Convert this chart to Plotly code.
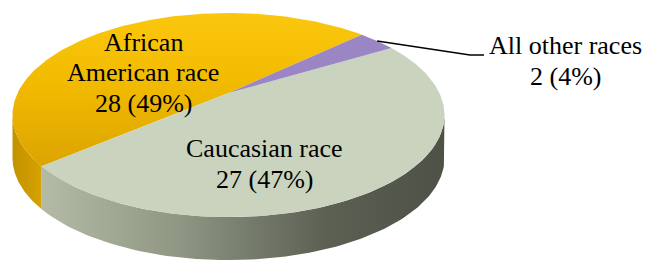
import numpy as np
import plotly.graph_objects as go

# ---------------- data ----------------
categories = ["African American race", "Caucasian race", "All other races"]
values = [28, 27, 2]
label_first_lines = [["African", "American race"], ["Caucasian race"], ["All other races"]]

# ---------------- styling / geometry ----------------
W, Hh = 647, 260
CX, CY = 228.5, 93.0          # projected centre of the pie
K, K2, E = 210.9, 97.3, 0.216  # perspective ellipse parameters
DEPTH = 43                     # thickness of the pie
START = 43.5                   # start angle (deg, counter-clockwise)
FONT = "Liberation Serif"
FS = 26

top_fill = [
    dict(type="vertical", colorscale=[[0, "#DCA400"], [0.55, "#F2BB00"], [1, "#FBC70E"]]),
    None,
    None,
]
top_colors = ["#F5C000", "#C9D3BE", "#9B86C5"]
wall_fill = [
    dict(type="horizontal", colorscale=[[0, "#C39300"], [1, "#D6A200"]]),
    dict(type="horizontal", colorscale=[[0, "#B3BBA6"], [0.35, "#8E9582"],
                                        [0.7, "#5C6154"], [1, "#4D5146"]]),
    None,
]
wall_colors = ["#CC9A00", "#7D8472", "#7A6A9E"]


def proj(theta_deg, r=1.0, drop=0.0):
    t = np.radians(theta_deg)
    d = 1 + E * r * np.sin(t)
    u = K * r * np.cos(t) / d
    v = K2 * r * np.sin(t) / d
    return CX + u, CY - v + drop


total = sum(values)
spans = [v / total * 360 for v in values]
bounds = [START]
for s in spans:
    bounds.append(bounds[-1] + s)

fig = go.Figure()

# visible wall range (front silhouette)
ext = np.degrees(np.arcsin(E))
wall_lo, wall_hi = 180 + ext, 360 - ext

# walls
for i in range(len(values)):
    a0, a1 = bounds[i], bounds[i + 1]
    for shift in (-360, 0, 360):
        lo = max(a0 + shift, wall_lo)
        hi = min(a1 + shift, wall_hi)
        if hi > lo:
            th = np.linspace(lo, hi, 120)
            xt, yt = proj(th)
            xb, yb = proj(th[::-1], drop=DEPTH)
            xs = np.concatenate([xt, xb, xt[:1]])
            ys = np.concatenate([yt, yb, yt[:1]])
            kw = dict(fillcolor=wall_colors[i])
            if wall_fill[i] is not None:
                kw = dict(fillgradient=wall_fill[i])
            fig.add_trace(go.Scatter(x=xs, y=ys, mode="lines", fill="toself",
                                     line=dict(width=0), hoverinfo="skip",
                                     showlegend=False, **kw))

# top faces
for i in range(len(values)):
    a0, a1 = bounds[i], bounds[i + 1]
    th = np.linspace(a0, a1, 200)
    xa, ya = proj(th)
    xs = np.concatenate([[CX], xa, [CX]])
    ys = np.concatenate([[CY], ya, [CY]])
    kw = dict(fillcolor=top_colors[i])
    if top_fill[i] is not None:
        kw = dict(fillgradient=top_fill[i])
    fig.add_trace(go.Scatter(x=xs, y=ys, mode="lines", fill="toself",
                             line=dict(width=0), hoverinfo="skip",
                             name=categories[i], showlegend=False, **kw))

# labels
def lab(v):
    return f"{v} ({round(v / total * 100)}%)"

label_pos = [(143, [42, 72, 103]), (264, [148, 179]), (565, [45, 76])]
for i in range(len(values)):
    lx, lys = label_pos[i]
    lines = label_first_lines[i] + [lab(values[i])]
    for txt, ly in zip(lines, lys):
        fig.add_annotation(x=lx, y=ly, text=txt, showarrow=False,
                           xanchor="center", yanchor="middle",
                           font=dict(family=FONT, size=FS, color="#000000"))

# leader line for the small slice
mid = (bounds[2] + bounds[3]) / 2
sx, sy = proj(mid)
LX, LY = 484, 55
fig.add_trace(go.Scatter(x=[sx, LX - 14, LX], y=[sy, LY, LY], mode="lines",
                         line=dict(color="#000000", width=1.6),
                         hoverinfo="skip", showlegend=False))

fig.update_layout(
    width=W, height=Hh,
    margin=dict(l=0, r=0, t=0, b=0),
    paper_bgcolor="white", plot_bgcolor="white",
    font=dict(family=FONT),
    xaxis=dict(range=[0, W], visible=False, fixedrange=True),
    yaxis=dict(range=[Hh, 0], visible=False, fixedrange=True),
)
fig.write_html("out.html", config={"displayModeBar": False},
               post_script="document.body.style.margin='0';document.body.style.overflow='hidden';")
